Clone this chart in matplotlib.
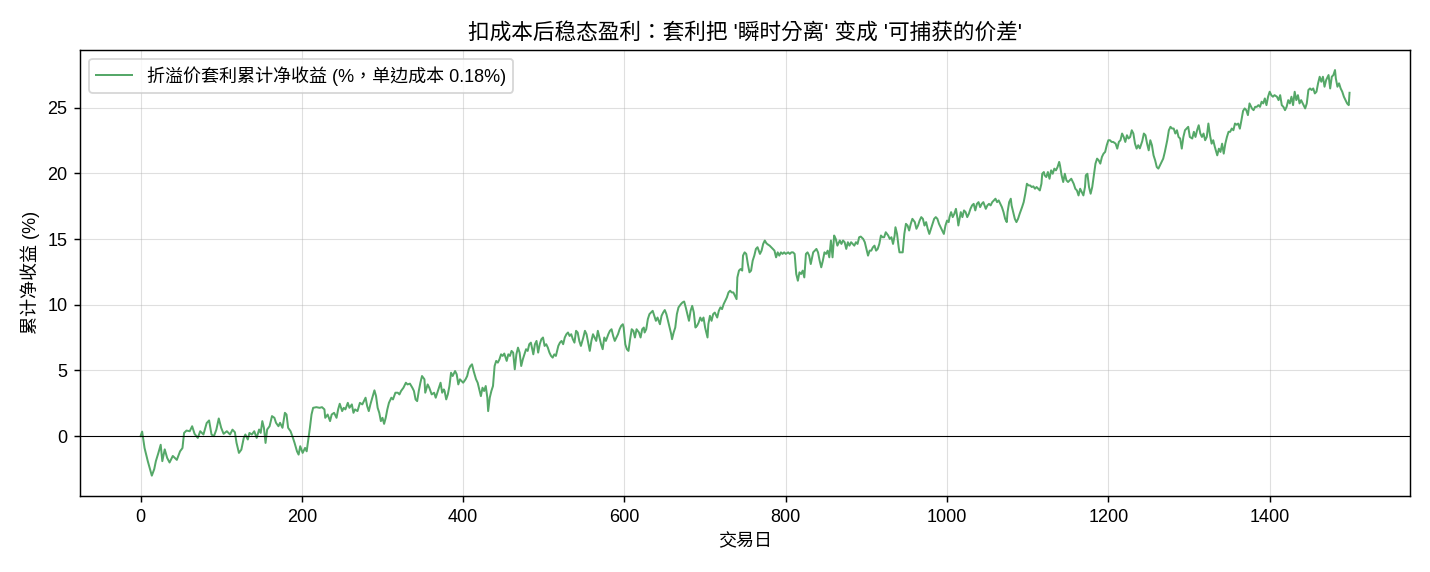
import matplotlib
matplotlib.use("Agg")
import matplotlib.pyplot as plt

plt.rcParams['font.family'] = ['Liberation Sans', 'Noto Sans CJK TC', 'DejaVu Sans']
plt.rcParams['axes.unicode_minus'] = False

title = "扣成本后稳态盈利：套利把 '瞬时分离' 变成 '可捕获的价差'"
legend_label = "折溢价套利累计净收益 (%，单边成本 0.18%)"
x_label = "交易日"
y_label = "累计净收益 (%)"

days = [
    0, 2, 5, 9, 14, 17, 19, 22, 25, 27, 30, 33, 36, 40, 45, 49, 52, 54, 57, 61,
    64, 67, 71, 74, 78, 82, 85, 88, 91, 94, 97, 100, 103, 107, 111, 114, 117, 119, 122,
    125, 128, 130, 133, 135, 138, 141, 144, 147, 149, 151, 153, 155, 157, 160, 163, 166,
    168, 171, 173, 176, 179, 181, 183, 186, 189, 191, 194, 196, 198, 201, 204, 206, 208,
    210, 212, 214, 218, 222, 225, 228, 229, 232, 235, 237, 240, 243, 245, 247, 250, 252,
    254, 257, 259, 262, 264, 266, 269, 272, 275, 277, 279, 281, 283, 285, 288, 290, 292,
    294, 296, 298, 300, 302, 304, 306, 308, 311, 313, 316, 319, 321, 323, 326, 329, 331,
    334, 337, 339, 341, 343, 345, 347, 349, 352, 353, 356, 358, 361, 364, 366, 368, 370,
    372, 374, 376,
    377, 379, 381, 383, 385, 387, 390, 392, 394, 396, 398, 400, 403, 405, 407, 409, 411,
    413, 416, 418, 420, 422, 424, 426, 428, 430, 431, 433, 435, 437, 439, 441, 443, 445,
    447, 449, 451, 454, 456, 458, 460, 462, 464, 466, 468, 470, 472, 474, 476, 478, 480,
    482, 484, 487, 489, 491, 493, 495, 497, 499,
    501, 503, 505, 507, 509, 511, 513, 515, 518, 520, 522, 524, 526, 528, 530, 532, 534,
    536, 538, 540, 542, 544, 546, 549, 551, 553, 555, 557, 559, 561, 563, 565, 567, 569,
    571, 573, 575, 577, 580, 582, 584, 586, 588, 590, 592, 594, 596, 598, 599, 601, 603,
    605, 607, 609, 611, 613, 615, 618, 620, 622, 624,
    625, 627, 629, 631, 633, 635, 637, 639, 641, 644, 646, 648, 650, 652, 654, 656, 658,
    659, 661, 663, 665, 667, 670, 672, 674, 676, 678, 680, 682, 684, 686, 688, 690, 692,
    694, 696, 698, 700, 703, 704, 706, 708, 710, 712, 715, 717, 719, 721, 723, 725, 727,
    729, 731, 733, 735, 737, 739,
    740, 742, 744, 746, 747, 749, 751, 753, 755, 757, 759, 761, 763, 765, 768, 770, 772,
    774, 776, 778, 780, 782, 784, 786, 788, 790, 792, 794, 796, 798, 800, 803, 805, 807,
    809, 811, 812, 813, 815, 817, 819, 821, 823, 825, 827, 829, 831, 834, 836, 838, 840,
    842, 844, 846, 848, 850, 852, 854, 856, 858, 860, 862, 864, 867, 869, 871, 873,
    875, 877, 879, 881, 883, 885, 887, 889, 891, 893, 896, 898, 900, 902, 904, 906, 908,
    910, 912, 914, 916, 918, 920, 922, 924, 927, 929, 931, 933, 935, 936, 938, 940, 941,
    943, 945, 947, 949, 951, 953, 955, 957, 960, 962, 964, 966, 968, 970, 972, 974, 976,
    978, 980, 982, 984, 986, 988, 990, 993, 995, 996,
    998, 1000, 1002, 1003, 1005, 1007, 1009, 1011, 1013, 1014, 1017, 1019, 1021, 1023,
    1025, 1027, 1029, 1031, 1033, 1035, 1037, 1039, 1041, 1043, 1045, 1048, 1050, 1052,
    1054, 1056, 1058, 1060, 1062, 1064, 1066, 1068, 1070, 1072, 1074, 1075, 1077, 1079,
    1080, 1082, 1084, 1086, 1088, 1090, 1093, 1095, 1097, 1099, 1101, 1103, 1105, 1107,
    1109, 1111, 1113, 1115, 1117, 1118, 1120,
    1121, 1123, 1125, 1127, 1129, 1131, 1133, 1135, 1137, 1139, 1140, 1142, 1144, 1146,
    1148, 1150, 1152, 1154, 1157, 1159, 1161, 1163, 1165, 1167, 1169, 1171, 1172, 1174,
    1175, 1176, 1178, 1180, 1182, 1184, 1186, 1188, 1190, 1192, 1194, 1196, 1198, 1200,
    1202, 1204, 1206, 1209, 1211, 1213, 1215, 1217, 1219, 1221, 1223, 1225, 1227, 1229,
    1231, 1233, 1235, 1237, 1239, 1242, 1244,
    1246, 1248, 1250, 1252, 1254, 1256, 1258, 1260, 1262, 1264, 1266, 1268, 1270, 1273,
    1275, 1277, 1279, 1281, 1283, 1285, 1287, 1289, 1291, 1293, 1295, 1297, 1299, 1301,
    1304, 1306, 1308, 1310, 1312, 1314, 1316, 1318, 1320, 1322, 1324, 1326, 1328, 1330,
    1332, 1335, 1337, 1339, 1341, 1343, 1345, 1347, 1349, 1351, 1353, 1355, 1357, 1359,
    1361, 1363, 1365, 1367,
    1369, 1371, 1373, 1375, 1378, 1380, 1382, 1384, 1386, 1388, 1390, 1392, 1394, 1396,
    1398, 1400, 1402, 1404, 1406, 1409, 1411, 1413, 1415, 1417, 1419, 1421, 1423, 1425,
    1427, 1429, 1431, 1433, 1435, 1437, 1439, 1442, 1444, 1446, 1448, 1450, 1452, 1454,
    1456, 1458, 1460, 1462, 1464, 1466, 1468, 1470, 1473, 1475, 1477, 1479, 1481, 1482,
    1484, 1486, 1488, 1490, 1492, 1494, 1496, 1498, 1499,
]

net_return = [
    0.0, 0.35, -0.9, -1.9, -3.0, -2.5, -1.9, -1.3, -0.65, -1.9, -1.0, -1.65, -2.0, -1.5, -1.8,
    -1.15, -0.9, 0.25, 0.43, 0.38, 0.76, 0.18, -0.13, 0.38, 0.13, 1.0, 1.2, 0.13, 0.0, 0.5,
    1.35, 0.64, 0.18, 0.38, 0.13, 0.5, 0.3, -0.5, -1.27,
    -1.02, -0.13, 0.13, -0.25, 0.25, 0.13, 0.38, -0.13, 0.51, 0.25, 1.15, 0.64, -0.51, 0.51,
    0.76, 1.53, 1.4, 1.02, 0.76, 1.02, 0.64, 1.78, 1.65, 0.64, 0.38, -0.13, -0.51, -1.15,
    -1.4, -0.76, -1.27, -0.89, -1.15, -0.25, 0.64, 1.65, 2.16, 2.21, 2.16, 2.21, 2.04, 1.4,
    1.65, 1.15, 1.65, 1.78, 1.4, 2.04, 2.47, 1.91, 2.16,
    2.04, 2.54, 2.16, 2.42, 1.78, 2.04, 1.91, 2.54, 2.42, 2.67, 2.93, 2.29, 1.91, 2.42, 3.05,
    3.49, 3.05, 2.16, 1.78, 1.15, 1.4, 0.94, 1.4, 2.04, 2.54, 2.93, 2.8, 3.31, 3.31, 3.18,
    3.44, 3.69, 4.07, 3.94, 4.0, 3.69, 3.44, 2.8, 2.67, 3.44, 4.07, 4.58, 4.33, 3.31, 3.94,
    3.69, 3.18, 3.31, 2.93, 3.31, 3.69, 4.07, 3.31, 3.56,
    3.44, 2.8, 3.18, 3.82, 4.83, 4.58, 4.96, 4.71, 3.94, 4.33, 4.2, 4.07, 4.33, 4.58, 5.09,
    5.34, 5.47, 4.96, 4.33, 4.07, 3.56, 3.05, 3.69, 3.44, 3.82, 2.93, 1.91, 2.93, 3.44, 3.82,
    5.34, 5.73, 5.6, 5.85, 6.23, 6.11, 6.29, 5.73, 6.23, 6.11, 6.49, 6.36, 5.09, 6.23, 6.74,
    6.36, 5.34, 5.85, 6.23, 6.62, 6.49, 7.0, 7.12, 6.23, 7.0, 7.25, 6.36, 7.0, 7.38, 7.51,
    6.87, 7.0, 6.74, 6.36, 6.11, 5.98, 6.23, 6.11, 6.87, 7.12, 7.25, 7.0, 7.51, 7.76, 7.89,
    7.63, 7.76, 7.38, 7.12, 8.02, 7.89, 7.25, 6.87, 7.51, 8.02, 7.76, 7.12, 6.49, 7.25, 7.76,
    7.51, 7.25, 8.02, 7.51, 7.0, 6.62, 7.51, 7.25, 7.76, 8.02, 8.14, 7.63, 7.25, 7.51, 7.76,
    8.14, 8.4, 8.52, 8.27, 7.0, 6.62, 6.49, 7.38, 8.14, 8.02, 7.51, 8.14, 7.89, 7.51, 8.14,
    8.27,
    7.89, 8.14, 8.91, 9.29, 9.41, 9.54, 9.16, 8.78, 9.03, 8.52, 9.16, 9.41, 9.6, 9.29, 8.78,
    8.27, 7.76, 7.38, 7.89, 8.27, 9.29, 9.8, 10.05, 10.18, 10.25, 9.8, 9.29, 8.78, 9.54, 9.92,
    9.41, 8.27, 8.4, 8.65, 9.03, 8.78, 9.03, 8.27, 7.51, 8.52, 9.16, 8.78, 9.29, 9.41, 9.03,
    9.54, 9.8, 9.67, 10.05, 10.31, 10.56, 10.94, 11.07, 10.94, 10.94, 10.69, 10.43,
    12.08, 12.6, 12.72, 12.6, 13.74, 13.99, 13.87, 13.1, 12.47, 12.6, 13.36, 13.74, 14.25,
    14.38, 13.87, 14.12, 14.63, 14.89, 14.68, 14.58, 14.5, 14.38, 14.25, 14.12, 13.61, 13.99,
    13.74, 13.99, 13.87, 13.99, 13.87, 13.99, 13.87, 13.99, 13.99, 13.87, 13.1, 12.34, 11.83,
    12.47, 12.34, 12.6, 12.08, 13.87, 13.99, 13.74, 13.1, 13.99, 14.12, 14.25, 13.99, 13.36,
    12.85, 13.36, 13.99, 13.87, 14.12, 13.61, 14.89, 13.61, 15.27, 15.01, 14.5, 14.89, 14.63,
    14.89, 14.76,
    14.25, 14.76, 14.5, 14.76, 14.63, 14.5, 14.76, 14.63, 15.14, 15.19, 15.01, 14.76, 14.25,
    13.74, 14.12, 14.12, 14.37, 14.5, 14.12, 14.25, 14.63, 15.27, 15.14, 15.14, 15.52, 15.27,
    15.01, 15.14, 14.63, 15.27, 15.9, 15.39, 14.37, 13.99, 13.99, 13.99, 15.39, 16.16, 16.03,
    15.65, 16.16, 16.54, 16.29, 15.78, 16.03, 16.41, 16.67, 16.54, 16.03, 16.29, 15.78, 15.39,
    15.78, 16.16, 16.54, 16.67, 16.54, 16.16, 15.78, 15.52, 15.39,
    16.03, 16.41, 16.29, 16.67, 17.05, 16.67, 16.92, 17.3, 16.54, 16.03, 17.05, 16.67, 17.18,
    17.05, 16.67, 16.92, 17.3, 17.56, 17.68, 17.18, 17.68, 17.81, 17.43, 17.68, 17.81, 17.3,
    17.56, 17.68, 17.56, 17.81, 17.94, 18.07, 17.81, 17.94, 17.68, 17.43, 17.05, 16.54, 16.29,
    17.05, 17.81, 18.07, 17.56, 17.05, 16.54, 16.29, 16.54, 16.92, 17.43, 17.81, 18.45, 19.21,
    19.08, 19.08, 18.96, 19.01, 18.83, 18.96, 18.83, 18.7, 19.21, 19.97, 20.1,
    19.85, 19.72, 20.1, 19.59, 20.23, 19.97, 20.36, 20.23, 20.48, 20.87, 20.61, 19.85, 19.34,
    19.97, 19.47, 19.34, 19.47, 19.59, 19.21, 18.83, 18.7, 18.32, 18.83, 18.58, 18.32, 18.96,
    19.85, 19.97, 19.47, 18.96, 18.45, 18.96, 19.85, 20.74, 21.12, 20.99, 20.74, 21.25, 21.5,
    21.63, 22.14, 22.52, 22.52, 22.39, 22.39, 22.26, 21.88, 22.39, 22.52, 23.03, 22.77, 22.39,
    22.9, 22.65, 22.77, 23.28, 23.03, 22.26, 21.88, 22.14, 21.9, 22.45, 23.03,
    22.9, 22.26, 21.75, 22.52, 22.14, 21.37, 20.99, 20.48, 20.36, 20.61, 20.87, 21.12, 21.63,
    22.52, 23.28, 23.54, 23.41, 23.41, 23.03, 23.28, 22.77, 22.65, 21.88, 22.77, 23.28, 23.41,
    23.54, 22.77, 22.65, 23.16, 22.77, 23.28, 23.66, 23.03, 22.77, 23.03, 22.52, 22.77, 23.79,
    22.9, 22.26, 22.52, 22.01, 21.37, 21.88, 21.63, 22.26, 21.5, 22.26, 22.77, 23.16, 23.16,
    23.41, 23.28, 23.79, 23.7, 23.79, 23.4, 24.05, 24.75,
    24.94, 24.81, 24.43, 25.32, 24.94, 24.81, 25.06, 25.06, 25.19, 25.06, 25.45, 25.32, 25.7,
    25.19, 25.83, 26.21, 25.95, 25.83, 25.95, 25.83, 25.57, 25.95, 25.19, 25.06, 24.81, 25.06,
    25.57, 25.32, 25.83, 25.19, 26.21, 25.57, 25.95, 25.32, 25.57, 25.19, 24.94, 25.32, 26.34,
    26.46, 26.34, 26.46, 26.08, 26.21, 26.85, 27.35, 26.97, 27.35, 26.59, 27.1, 27.48, 26.46,
    27.35, 27.48, 27.86, 27.23, 26.59, 26.85, 26.46, 26.21, 25.83, 25.57, 25.32, 25.19, 26.13,
]

assert len(days) == len(net_return)

fig = plt.figure(figsize=(11, 4.4), dpi=130)
ax = fig.add_axes([0.056, 0.133, 0.93, 0.78])

ax.plot(days, net_return, color='#55a868', linewidth=1.1, label=legend_label)
ax.axhline(0, color='black', linewidth=0.6)
ax.grid(True, color='#b0b0b0', alpha=0.4, linewidth=0.6)
ax.set_axisbelow(True)

ax.set_title(title, fontsize=12)
ax.set_xlabel(x_label, fontsize=10)
ax.set_ylabel(y_label, fontsize=10)
ax.tick_params(labelsize=10)
ax.legend(loc='upper left', fontsize=10)

fig.savefig("out.png", dpi=130)
